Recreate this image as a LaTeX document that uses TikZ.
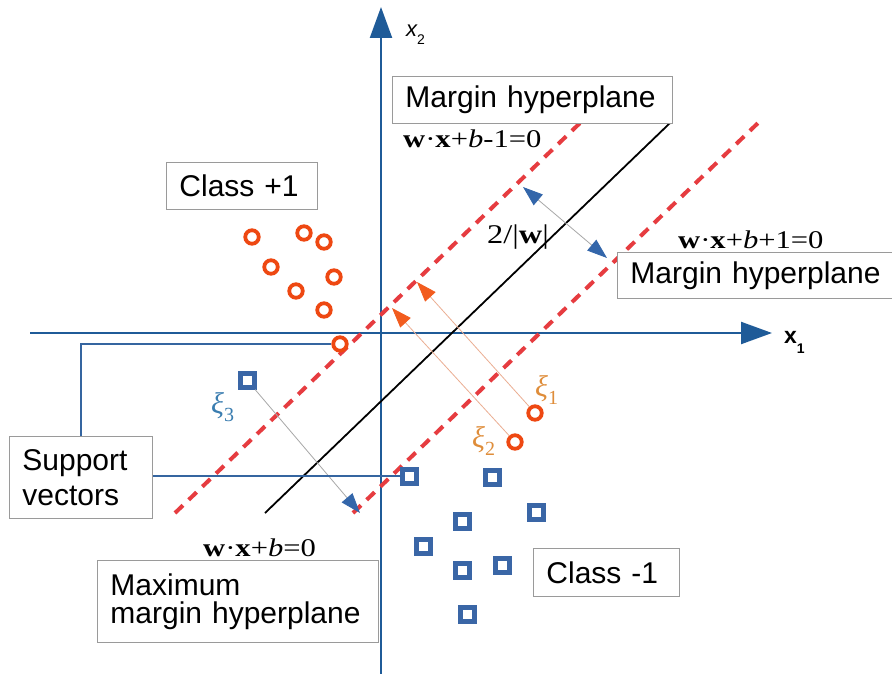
\documentclass[tikz,border=0pt]{standalone}
\usepackage{fontspec}
\setmainfont{Liberation Sans}
\newfontfamily\eqfont[FakeStretch=1.2]{Liberation Serif}
\newfontfamily\grfont{Liberation Serif}
\usetikzlibrary{arrows.meta,calc}
\definecolor{AxisBlue}{HTML}{1F5B98}
\definecolor{PtRed}{HTML}{EE4812}
\definecolor{SqBlue}{HTML}{3A66A6}
\definecolor{DashRed}{HTML}{E63C40}
\definecolor{BoxGray}{HTML}{9A9A9A}
\definecolor{SupBlue}{HTML}{3565A0}
\definecolor{XiOrange}{HTML}{DF8D3A}
\definecolor{XiBlue}{HTML}{3A7DB0}
\definecolor{XiLine}{HTML}{EBAE92}
\definecolor{XiHead}{HTML}{F25C1E}
\definecolor{GrLine}{HTML}{A8A8A8}
\definecolor{HdBlue}{HTML}{3366AA}

\newcommand{\eqn}[1]{{\eqfont\fontsize{25.5}{28}\selectfont #1}}
\newcommand{\vw}{\textbf{w}}
\newcommand{\vx}{\textbf{x}}
\newcommand{\xisub}[1]{{\grfont\fontsize{30}{30}\selectfont\itshape ξ}\raisebox{-8pt}{\grfont\fontsize{20}{20}\selectfont #1}}

\begin{document}
\begin{tikzpicture}[
  x=1pt, y=-1pt,
  ax/.style={AxisBlue, line width=2.2pt, -{Triangle[length=31pt,width=22pt]}},
  plusdot/.style={circle, draw=PtRed, line width=3.8pt, minimum size=13.5pt, inner sep=0pt},
  minusdot/.style={rectangle, draw=SqBlue, line width=5pt, minimum size=14pt, inner sep=0pt},
  hyp/.style={black, line width=1.8pt},
  marg/.style={DashRed, line width=4pt, dash pattern=on 11pt off 8pt},
  xiarr/.style={XiLine, line width=0.8pt, -{Triangle[length=20pt,width=14pt,color=XiHead]}},
  grarr/.style={GrLine, line width=0.8pt, -{Triangle[length=20pt,width=14pt,color=HdBlue]}},
  wdarr/.style={GrLine, line width=0.8pt,
                {Triangle[length=20pt,width=14pt,color=HdBlue]}-{Triangle[length=20pt,width=14pt,color=HdBlue]}},
  sup/.style={SupBlue, line width=2pt},
  lbl/.style={draw=BoxGray, line width=0.9pt, fill=white, anchor=north west,
              inner xsep=13pt, inner ysep=0pt, align=left,
              font=\fontsize{30}{35}\selectfont},
  eq/.style={anchor=base west, inner sep=0pt},
  xi/.style={anchor=base west, inner sep=0pt}]

\fill[white] (0,0) rectangle (892,674);
\useasboundingbox (0,0) rectangle (892,674);

% axes
\coordinate (xL) at (30,333);
\coordinate (xR) at (772,333);
\coordinate (yB) at (381,674);
\coordinate (yT) at (381,7);
\draw[ax] (xL) -- (xR);
\draw[ax] (yB) -- (yT);
\node[anchor=base west, inner sep=0pt] (lx2) at (406,37)
  {{\fontsize{22}{22}\selectfont\itshape x}\raisebox{-8pt}{\fontsize{14}{14}\selectfont 2}};
\node[anchor=base west, inner sep=0pt] (lx1) at (784,343)
  {{\fontsize{23}{23}\selectfont\bfseries x}\raisebox{-10pt}{\fontsize{14}{14}\selectfont\bfseries 1}};

% hyperplanes
\coordinate (pA) at (175,513);
\coordinate (pB) at (580,123);
\coordinate (hA) at (265,513);
\coordinate (hB) at (670,123);
\coordinate (nA) at (353,513);
\coordinate (nB) at (758,123);
\draw[marg] (pA) -- (pB);
\draw[hyp] (hA) -- (hB);
\draw[marg] (nA) -- (nB);

% class +1 points
\foreach \nm/\xy in {c1/{252,237}, c2/{304,233}, c3/{324,242}, c4/{271,267},
                     c5/{334,277}, c6/{296,291}, c7/{324,310}, sv/{340,344},
                     e1/{535,413}, e2/{515,442}}
  \node[plusdot] (\nm) at (\xy) {};

% class -1 points
\foreach \nm/\xy in {s1/{409,476}, s2/{492,477}, s3/{536,512}, s4/{462,521},
                     s5/{423,546}, s6/{462,570}, s7/{502,565}, s8/{467,614},
                     e3/{247,380}}
  \node[minusdot] (\nm) at (\xy) {};

% slack arrows
\coordinate (t1) at (417,282);
\coordinate (t2) at (392,308);
\coordinate (t3) at (360,513);
\draw[xiarr] (e1) -- (t1);
\draw[xiarr] (e2) -- (t2);
\draw[grarr] (e3) -- (t3);
\node[xi, text=XiOrange] (k1) at (535,396) {\xisub{1}};
\node[xi, text=XiOrange] (k2) at (472,447) {\xisub{2}};
\node[xi, text=XiBlue] (k3) at (211,413) {\xisub{3}};

% margin width
\coordinate (w1) at (523,187);
\coordinate (w2) at (607,258);
\draw[wdarr] (w1) -- (w2);
\node[eq] (wd) at (487,243) {{\eqfont\fontsize{27}{30}\selectfont 2/|\vw|}};

% equations
\node[eq] (eqp) at (403,148) {\eqn{\vw·\vx+\textit{b}-1=0}};
\node[eq] (eqn) at (678,248) {\eqn{\vw·\vx+\textit{b}+1=0}};
\node[eq] (eqh) at (203,556) {\eqn{\vw·\vx+\textit{b}=0}};

% labels
\node[lbl, text width=254pt, minimum height=47pt] (mtop) at (392,76) {Margin hyperplane};
\node[lbl, text width=262pt, minimum height=46pt] (mbot) at (617,252) {Margin hyperplane};
\node[lbl, text width=125pt, minimum height=47pt] (cpos) at (166,162) {Class +1};
\node[lbl, text width=120pt, minimum height=48pt] (cneg) at (533,548) {Class -1};
\node[lbl, text width=117pt, minimum height=82pt] (sbox) at (9,436) {Support\\vectors};
\node[lbl, text width=255pt, minimum height=82pt, font=\fontsize{30}{28}\selectfont] (mbox) at (97,560)
  {Maximum\\margin hyperplane};

% support vector pointers
\coordinate (sk) at (80.5,476);
\draw[sup] (sbox.north) |- (sv.west);
\draw[sup] (sbox.east |- sk) -- (s1.west);
\end{tikzpicture}
\end{document}
